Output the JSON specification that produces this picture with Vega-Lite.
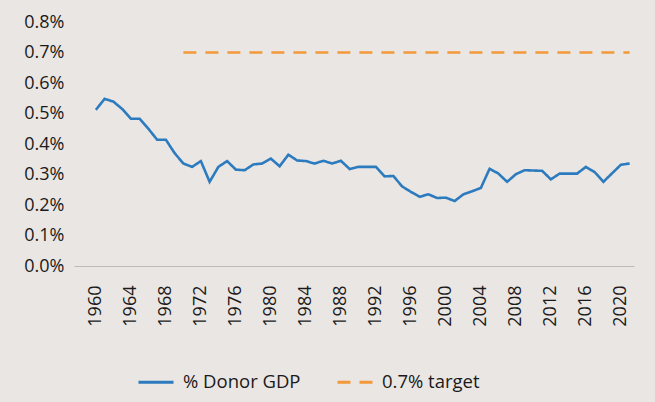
{
  "$schema": "https://vega.github.io/schema/vega-lite/v6.json",
  "width": 560,
  "height": 244,
  "autosize": "none",
  "padding": {"left": 74, "top": 22, "right": 21, "bottom": 136},
  "background": "#EAE6E3",
  "config": {
    "view": {"stroke": null},
    "font": "Open Sans",
    "axis": {"labelFont": "Open Sans", "labelFontSize": 18, "labelColor": "#1a1a1a", "grid": false, "ticks": false, "title": null},
    "legend": {"labelFont": "Open Sans", "labelFontSize": 18.5, "labelColor": "#1a1a1a"}
  },
  "data": {
    "values": [
      {"year": 1960, "series": "% Donor GDP", "v": 0.00512},
      {"year": 1961, "series": "% Donor GDP", "v": 0.00548},
      {"year": 1962, "series": "% Donor GDP", "v": 0.00539},
      {"year": 1963, "series": "% Donor GDP", "v": 0.00515},
      {"year": 1964, "series": "% Donor GDP", "v": 0.00483},
      {"year": 1965, "series": "% Donor GDP", "v": 0.00483},
      {"year": 1966, "series": "% Donor GDP", "v": 0.00450},
      {"year": 1967, "series": "% Donor GDP", "v": 0.00414},
      {"year": 1968, "series": "% Donor GDP", "v": 0.00414},
      {"year": 1969, "series": "% Donor GDP", "v": 0.00370},
      {"year": 1970, "series": "% Donor GDP", "v": 0.00336},
      {"year": 1971, "series": "% Donor GDP", "v": 0.00325},
      {"year": 1972, "series": "% Donor GDP", "v": 0.00344},
      {"year": 1973, "series": "% Donor GDP", "v": 0.00276},
      {"year": 1974, "series": "% Donor GDP", "v": 0.00325},
      {"year": 1975, "series": "% Donor GDP", "v": 0.00344},
      {"year": 1976, "series": "% Donor GDP", "v": 0.00316},
      {"year": 1977, "series": "% Donor GDP", "v": 0.00314},
      {"year": 1978, "series": "% Donor GDP", "v": 0.00333},
      {"year": 1979, "series": "% Donor GDP", "v": 0.00336},
      {"year": 1980, "series": "% Donor GDP", "v": 0.00352},
      {"year": 1981, "series": "% Donor GDP", "v": 0.00327},
      {"year": 1982, "series": "% Donor GDP", "v": 0.00365},
      {"year": 1983, "series": "% Donor GDP", "v": 0.00346},
      {"year": 1984, "series": "% Donor GDP", "v": 0.00344},
      {"year": 1985, "series": "% Donor GDP", "v": 0.00336},
      {"year": 1986, "series": "% Donor GDP", "v": 0.00345},
      {"year": 1987, "series": "% Donor GDP", "v": 0.00336},
      {"year": 1988, "series": "% Donor GDP", "v": 0.00345},
      {"year": 1989, "series": "% Donor GDP", "v": 0.00318},
      {"year": 1990, "series": "% Donor GDP", "v": 0.00325},
      {"year": 1991, "series": "% Donor GDP", "v": 0.00325},
      {"year": 1992, "series": "% Donor GDP", "v": 0.00325},
      {"year": 1993, "series": "% Donor GDP", "v": 0.00294},
      {"year": 1994, "series": "% Donor GDP", "v": 0.00295},
      {"year": 1995, "series": "% Donor GDP", "v": 0.00261},
      {"year": 1996, "series": "% Donor GDP", "v": 0.00243},
      {"year": 1997, "series": "% Donor GDP", "v": 0.00227},
      {"year": 1998, "series": "% Donor GDP", "v": 0.00235},
      {"year": 1999, "series": "% Donor GDP", "v": 0.00223},
      {"year": 2000, "series": "% Donor GDP", "v": 0.00224},
      {"year": 2001, "series": "% Donor GDP", "v": 0.00213},
      {"year": 2002, "series": "% Donor GDP", "v": 0.00235},
      {"year": 2003, "series": "% Donor GDP", "v": 0.00245},
      {"year": 2004, "series": "% Donor GDP", "v": 0.00256},
      {"year": 2005, "series": "% Donor GDP", "v": 0.00319},
      {"year": 2006, "series": "% Donor GDP", "v": 0.00303},
      {"year": 2007, "series": "% Donor GDP", "v": 0.00276},
      {"year": 2008, "series": "% Donor GDP", "v": 0.00301},
      {"year": 2009, "series": "% Donor GDP", "v": 0.00314},
      {"year": 2010, "series": "% Donor GDP", "v": 0.00313},
      {"year": 2011, "series": "% Donor GDP", "v": 0.00312},
      {"year": 2012, "series": "% Donor GDP", "v": 0.00284},
      {"year": 2013, "series": "% Donor GDP", "v": 0.00303},
      {"year": 2014, "series": "% Donor GDP", "v": 0.00303},
      {"year": 2015, "series": "% Donor GDP", "v": 0.00303},
      {"year": 2016, "series": "% Donor GDP", "v": 0.00325},
      {"year": 2017, "series": "% Donor GDP", "v": 0.00308},
      {"year": 2018, "series": "% Donor GDP", "v": 0.00276},
      {"year": 2019, "series": "% Donor GDP", "v": 0.00304},
      {"year": 2020, "series": "% Donor GDP", "v": 0.00332},
      {"year": 2021, "series": "% Donor GDP", "v": 0.00336},
      {"year": 1970, "series": "0.7% target", "v": 0.007},
      {"year": 2021, "series": "0.7% target", "v": 0.007}
    ]
  },
  "mark": {"type": "line", "strokeWidth": 2.6, "strokeCap": "butt"},
  "encoding": {
    "x": {
      "field": "year", "type": "quantitative",
      "scale": {"domain": [1957.5, 2021.5], "nice": false, "zero": false},
      "axis": {
        "values": [1960, 1964, 1968, 1972, 1976, 1980, 1984, 1988, 1992, 1996, 2000, 2004, 2008, 2012, 2016, 2020],
        "format": "d", "labelAngle": -90, "labelAlign": "right", "labelBaseline": "middle",
        "labelPadding": 19, "domainColor": "#BDBAB7", "domainWidth": 1.2, "labelOverlap": false, "labelFlush": false
      }
    },
    "y": {
      "field": "v", "type": "quantitative",
      "scale": {"domain": [0, 0.008], "nice": false},
      "axis": {"values": [0, 0.001, 0.002, 0.003, 0.004, 0.005, 0.006, 0.007, 0.008], "format": ".1%", "domain": false, "labelPadding": 10}
    },
    "color": {
      "field": "series", "type": "nominal",
      "scale": {"domain": ["% Donor GDP", "0.7% target"], "range": ["#2C7BBF", "#F4993A"]},
      "legend": {"title": null, "orient": "none", "legendX": 63, "legendY": 341, "direction": "horizontal", "symbolType": "stroke", "symbolSize": 1225, "symbolStrokeWidth": 3, "columnPadding": 30, "labelOffset": 8}
    },
    "strokeDash": {
      "field": "series", "type": "nominal",
      "scale": {"domain": ["% Donor GDP", "0.7% target"], "range": [[1, 0], [13, 9]]},
      "legend": null
    }
  }
}
